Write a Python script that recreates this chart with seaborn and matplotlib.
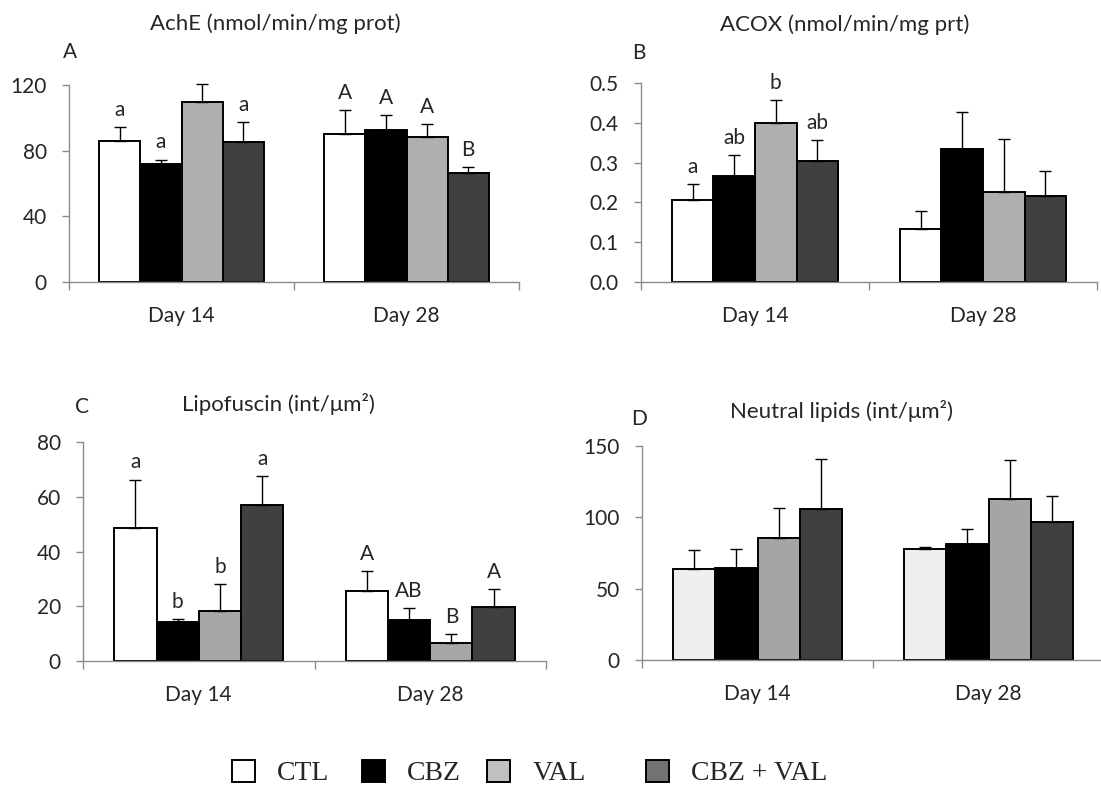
import numpy as np
import pandas as pd
import matplotlib.pyplot as plt
import seaborn as sns
from matplotlib.patches import Patch
from matplotlib.ticker import FormatStrFormatter

# groups and sampling days
groups = ["CTL", "CBZ", "VAL", "CBZ + VAL"]
days = ["Day 14", "Day 28"]

# A - AchE (nmol/min/mg prot)
ache_d14 = [86.0, 71.8, 109.4, 85.0]
ache_d28 = [89.9, 92.7, 88.5, 66.7]
ache_err_d14 = [8.2, 2.8, 11.4, 12.6]
ache_err_d28 = [14.8, 8.8, 7.9, 3.5]
ache_lab_d14 = ["a", "a", "b", "a"]
ache_lab_d28 = ["A", "A", "A", "B"]

# B - ACOX (nmol/min/mg prt)
acox_d14 = [0.205, 0.266, 0.399, 0.303]
acox_d28 = [0.134, 0.333, 0.227, 0.215]
acox_err_d14 = [0.040, 0.054, 0.059, 0.053]
acox_err_d28 = [0.045, 0.094, 0.132, 0.065]
acox_lab_d14 = ["a", "ab", "b", "ab"]
acox_lab_d28 = ["", "", "", ""]

# C - Lipofuscin (int/um2)
lipo_d14 = [48.7, 14.4, 18.2, 57.0]
lipo_d28 = [25.7, 15.0, 6.4, 19.8]
lipo_err_d14 = [17.6, 1.0, 9.9, 10.5]
lipo_err_d28 = [7.3, 4.5, 3.5, 6.6]
lipo_lab_d14 = ["a", "b", "b", "a"]
lipo_lab_d28 = ["A", "AB", "B", "A"]

# D - Neutral lipids (int/um2)
nl_d14 = [63.7, 64.4, 85.6, 105.5]
nl_d28 = [77.9, 81.4, 113.0, 96.6]
nl_err_d14 = [13.1, 13.5, 20.9, 35.4]
nl_err_d28 = [1.0, 10.6, 27.2, 18.5]
nl_lab_d14 = ["", "", "", ""]
nl_lab_d28 = ["", "", "", ""]

sns.set_style("white")
plt.rcParams['font.family'] = ['Lato', 'DejaVu Sans']

W, H = 1101, 789
fig = plt.figure(figsize=(W / 100, H / 100), dpi=100)
axis_grey = '#8c8c8c'


def box(left, right, bottom, top):
    return [left / W, 1 - bottom / H, (right - left) / W, (bottom - top) / H]


def panel(rect, d14, d28, e14, e28, lab14, lab28, colors, ylim, yticks, fmt):
    ax = fig.add_axes(rect)
    df = pd.DataFrame({'day': np.repeat(days, len(groups)),
                       'group': groups * 2,
                       'value': list(d14) + list(d28)})
    sns.barplot(data=df, x='day', y='value', hue='group', order=days,
                hue_order=groups, palette=colors, saturation=1, width=0.73,
                edgecolor='black', linewidth=1.4, errorbar=None,
                legend=False, ax=ax)

    # upper error bars + significance letters
    bars = sorted(ax.patches, key=lambda p: p.get_x())
    xs = [b.get_x() + b.get_width() / 2 for b in bars]
    ys = [b.get_height() for b in bars]
    errs = list(e14) + list(e28)
    labs = list(lab14) + list(lab28)
    ax.errorbar(xs, ys, yerr=[np.zeros(len(errs)), errs], fmt='none',
                ecolor='black', elinewidth=1, capsize=4.5, capthick=1,
                clip_on=False, zorder=1)
    for x, y, e, s in zip(xs, ys, errs, labs):
        if s:
            ax.annotate(s, (x, y + e), xytext=(0, 8), textcoords='offset points',
                        ha='center', va='baseline', fontsize=15)

    ax.set_xlim(-0.5, 1.5)
    ax.set_ylim(*ylim)
    ax.set_yticks(yticks)
    ax.yaxis.set_major_formatter(FormatStrFormatter(fmt))
    ax.set_xlabel('')
    ax.set_ylabel('')
    for s in ['top', 'right']:
        ax.spines[s].set_visible(False)
    for s in ['left', 'bottom']:
        ax.spines[s].set_color(axis_grey)
        ax.spines[s].set_linewidth(1)
    ax.tick_params(axis='y', direction='out', length=5, width=1,
                   color=axis_grey, labelsize=15, pad=11, left=True)
    ax.tick_params(axis='x', which='major', length=0, labelsize=15, pad=17)
    ax.set_xticks([-0.5, 0.5, 1.5], minor=True)
    ax.tick_params(axis='x', which='minor', direction='out', length=6,
                   width=1, color=axis_grey, bottom=True)
    return ax


pal_ab = ['white', 'black', '#b1aeae', '#404040']
pal_c = ['white', 'black', '#a6a6a6', '#404040']
pal_d = ['#efefef', 'black', '#a5a5a5', '#404040']

panel(box(69, 519, 282, 85), ache_d14, ache_d28, ache_err_d14, ache_err_d28,
      ache_lab_d14, ache_lab_d28, pal_ab, (0, 120), [0, 40, 80, 120], '%d')
panel(box(641, 1097, 282, 83), acox_d14, acox_d28, acox_err_d14, acox_err_d28,
      acox_lab_d14, acox_lab_d28, pal_ab, (0, 0.5),
      [0.0, 0.1, 0.2, 0.3, 0.4, 0.5], '%.1f')
panel(box(83, 546, 661, 442), lipo_d14, lipo_d28, lipo_err_d14, lipo_err_d28,
      lipo_lab_d14, lipo_lab_d28, pal_c, (0, 80), [0, 20, 40, 60, 80], '%d')
panel(box(642, 1104, 660, 446), nl_d14, nl_d28, nl_err_d14, nl_err_d28,
      nl_lab_d14, nl_lab_d28, pal_d, (0, 150), [0, 50, 100, 150], '%d')


def ftext(x, y, s, **kw):
    fig.text(x / W, 1 - y / H, s, ha='center', va='center', **kw)


ftext(275, 24, "AchE (nmol/min/mg prot)", fontsize=16)
ftext(845, 25, "ACOX (nmol/min/mg prt)", fontsize=16)
ftext(278, 404, "Lipofuscin (int/μm²)", fontsize=16)
ftext(842, 411, "Neutral lipids (int/μm²)", fontsize=16)
ftext(70, 52, "A", fontsize=15)
ftext(639, 53, "B", fontsize=15)
ftext(82, 407, "C", fontsize=15)
ftext(639, 419, "D", fontsize=15)

# legend at the bottom, one entry at a time
legend_colors = ['white', 'black', '#c0c0c0', '#727272']
legend_x = [232, 362, 487, 646]
for g, c, x in zip(groups, legend_colors, legend_x):
    fig.legend(handles=[Patch(facecolor=c, edgecolor='black', linewidth=1.4, label=g)],
               loc='center left', bbox_to_anchor=(x / W, 1 - 773 / H),
               frameon=False, borderaxespad=0, borderpad=0,
               handlelength=0.83, handleheight=0.87, handletextpad=0.8,
               prop={'family': 'Liberation Serif', 'size': 20})

fig.savefig('out.png', dpi=100)
